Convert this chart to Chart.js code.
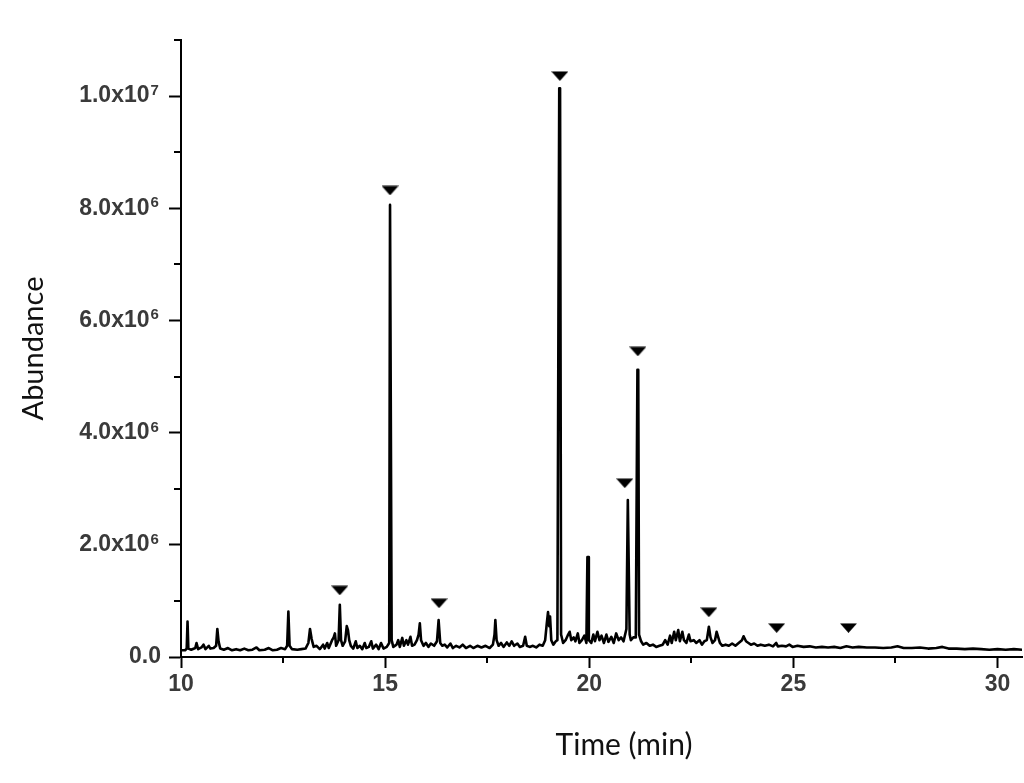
<!DOCTYPE html>
<html>
<head>
<meta charset="utf-8">
<script src="https://cdn.jsdelivr.net/npm/chart.js@4.4.1/dist/chart.umd.min.js"></script>
<style>
html,body{margin:0;padding:0;background:#fff;}
canvas{display:block;}
</style>
</head>
<body>
<canvas id="c" width="1024" height="783"></canvas>
<script>
// Retention time (min)
const times = [
10.00,10.10,10.14,10.16,10.18,10.25,10.35,10.38,10.42,10.50,10.55,10.60,10.68,10.72,10.80,10.86,10.89,10.92,10.96,
11.05,11.15,11.25,11.35,11.45,11.55,11.65,11.75,11.85,11.92,12.05,12.15,12.25,12.35,12.45,12.55,12.60,12.63,12.66,12.72,
12.85,12.95,13.05,13.12,13.16,13.20,13.25,13.32,13.40,13.48,13.52,13.58,13.62,13.70,13.74,13.77,13.80,13.86,13.89,13.92,
13.96,14.02,14.06,14.09,14.12,14.16,14.22,14.28,14.32,14.38,14.44,14.50,14.54,14.60,14.66,14.70,14.78,14.84,14.90,14.96,
15.04,15.10,15.12,15.14,15.16,15.20,15.28,15.32,15.36,15.42,15.46,15.52,15.56,15.62,15.66,15.72,15.78,15.82,15.85,15.88,15.94,
16.00,16.06,16.12,16.20,16.27,16.31,16.35,16.40,16.46,16.52,16.60,16.66,16.74,16.82,16.90,16.98,17.08,17.16,17.26,17.36,
17.46,17.56,17.64,17.68,17.70,17.73,17.78,17.84,17.90,17.98,18.04,18.10,18.16,18.24,18.30,18.38,18.43,18.47,18.54,18.62,
18.70,18.78,18.86,18.92,18.96,18.99,19.02,19.04,19.07,19.12,19.18,19.22,19.245,19.265,19.285,19.31,19.36,19.42,19.47,19.52,19.56,
19.62,19.66,19.72,19.76,19.82,19.88,19.93,19.955,19.97,19.99,20.05,20.10,20.14,20.20,20.25,20.30,20.36,20.42,20.47,20.54,20.60,
20.66,20.72,20.78,20.84,20.91,20.945,20.96,20.99,21.02,21.08,21.14,21.18,21.20,21.22,21.27,21.32,21.40,21.48,21.56,21.64,21.72,21.80,
21.86,21.92,21.98,22.02,22.08,22.12,22.18,22.22,22.28,22.32,22.38,22.44,22.48,22.56,22.62,22.70,22.76,22.82,22.88,22.93,
22.97,23.02,23.08,23.12,23.16,23.20,23.26,23.34,23.42,23.50,23.58,23.66,23.74,23.78,23.84,23.90,23.96,24.04,24.12,24.20,
24.30,24.40,24.50,24.58,24.62,24.72,24.82,24.90,24.98,25.10,25.25,25.40,25.55,25.70,25.85,26.00,26.15,26.30,26.45,26.60,
26.80,27.00,27.20,27.40,27.55,27.70,27.90,28.10,28.30,28.50,28.65,28.80,29.00,29.20,29.40,29.60,29.80,30.00,30.20,30.40,30.60
];
// Abundance (x10^6)
const abundance = [
0.12,0.12,0.15,0.63,0.15,0.13,0.16,0.25,0.14,0.17,0.22,0.14,0.20,0.15,0.16,0.20,0.50,0.28,0.15,
0.13,0.16,0.12,0.14,0.12,0.15,0.12,0.13,0.17,0.12,0.13,0.16,0.12,0.13,0.16,0.14,0.20,0.81,0.20,0.14,
0.13,0.14,0.15,0.25,0.50,0.32,0.18,0.20,0.14,0.22,0.15,0.25,0.16,0.30,0.35,0.42,0.20,0.30,0.93,0.30,
0.20,0.28,0.55,0.48,0.30,0.20,0.15,0.28,0.16,0.20,0.14,0.25,0.16,0.18,0.28,0.15,0.22,0.14,0.25,0.15,
0.18,0.25,8.06,8.06,0.30,0.18,0.22,0.30,0.18,0.34,0.20,0.30,0.22,0.36,0.20,0.22,0.30,0.40,0.60,0.30,0.20,
0.25,0.18,0.24,0.20,0.28,0.66,0.25,0.20,0.22,0.17,0.24,0.16,0.20,0.17,0.22,0.16,0.20,0.16,0.20,0.17,
0.20,0.16,0.22,0.40,0.66,0.30,0.20,0.25,0.18,0.26,0.20,0.28,0.20,0.24,0.18,0.20,0.36,0.20,0.18,0.20,
0.17,0.22,0.20,0.30,0.60,0.80,0.55,0.72,0.30,0.22,0.28,0.30,6.00,10.14,10.14,0.40,0.25,0.30,0.38,0.45,0.30,
0.35,0.28,0.42,0.25,0.30,0.38,0.25,1.78,1.78,0.30,0.25,0.40,0.28,0.45,0.30,0.38,0.25,0.40,0.27,0.36,0.25,
0.42,0.30,0.35,0.28,0.50,2.80,2.00,0.40,0.30,0.35,0.35,5.12,5.12,0.40,0.28,0.22,0.25,0.20,0.22,0.18,0.20,0.22,
0.30,0.22,0.38,0.25,0.45,0.30,0.48,0.28,0.45,0.30,0.25,0.40,0.28,0.30,0.25,0.30,0.22,0.28,0.30,0.54,
0.35,0.25,0.30,0.45,0.35,0.25,0.20,0.22,0.20,0.24,0.20,0.25,0.30,0.37,0.28,0.25,0.22,0.24,0.20,0.22,
0.20,0.22,0.19,0.25,0.19,0.20,0.19,0.22,0.18,0.20,0.18,0.19,0.17,0.18,0.17,0.18,0.16,0.19,0.17,0.18,
0.17,0.17,0.16,0.17,0.19,0.16,0.16,0.17,0.15,0.16,0.18,0.15,0.15,0.14,0.15,0.14,0.13,0.14,0.13,0.14,0.13
];
// Marked compounds (triangles)
const markerTimes = [13.89, 15.12, 16.32, 19.28, 20.87, 21.19, 22.93, 24.59, 26.35];
const markerValues = [1.19, 8.32, 0.96, 10.36, 3.10, 5.45, 0.80, 0.52, 0.52];

// Axis ticks
const xTicks = [10, 12.5, 15, 17.5, 20, 22.5, 25, 27.5, 30];
const xTickLabels = ["10", "", "15", "", "20", "", "25", "", "30"];
const yTicks = [0, 1, 2, 3, 4, 5, 6, 7, 8, 9, 10, 11];
const yTickLabels = ["0.0", "", "2.0x10", "", "4.0x10", "", "6.0x10", "", "8.0x10", "", "1.0x10", ""];
const yTickExponents = ["", "", "6", "", "6", "", "6", "", "6", "", "7", ""];
const xTitle = "Time (min)";
const yTitle = "Abundance";

const tracePoints = times.map((t, i) => ({x: t, y: abundance[i]}));
const markerPoints = markerTimes.map((t, i) => ({x: t, y: markerValues[i]}));

const tickFont = {family: "'Liberation Sans', Arial, sans-serif", size: 23, weight: 'bold'};
const tickColor = '#3a3a3a';
const titleFontFamily = "Lato, 'Open Sans', sans-serif";
const EXP_GAP = '\u2002';

// downward triangle marker image
const tri = document.createElement('canvas');
tri.width = 17; tri.height = 10;
const tctx = tri.getContext('2d');
tctx.fillStyle = '#000';
tctx.beginPath();
tctx.moveTo(0, 0.5); tctx.lineTo(17, 0.5); tctx.lineTo(8.5, 10); tctx.closePath();
tctx.fill();

const axisExtras = {
  id: 'axisExtras',
  afterDraw(chart) {
    const ctx = chart.ctx;
    const xs = chart.scales.x, ys = chart.scales.y;
    ctx.save();
    // minor ticks
    ctx.strokeStyle = '#000';
    ctx.lineWidth = 2;
    xs.ticks.forEach((tk, i) => {
      if (xTickLabels[i] === '') {
        const px = Math.round(xs.getPixelForValue(tk.value));
        ctx.beginPath(); ctx.moveTo(px, xs.top); ctx.lineTo(px, xs.top + 6); ctx.stroke();
      }
    });
    ys.ticks.forEach((tk, i) => {
      if (yTickLabels[i] === '') {
        const py = Math.round(ys.getPixelForValue(tk.value));
        ctx.beginPath(); ctx.moveTo(ys.right, py); ctx.lineTo(ys.right - 7, py); ctx.stroke();
      }
    });
    // exponents of y tick labels
    ctx.font = `${tickFont.weight} ${tickFont.size}px ${tickFont.family}`;
    const gapW = ctx.measureText(EXP_GAP).width;
    const labelRight = ys.right - 12 - 8;
    ctx.font = `${tickFont.weight} 15px ${tickFont.family}`;
    ctx.fillStyle = tickColor;
    ctx.textAlign = 'left';
    ctx.textBaseline = 'alphabetic';
    ys.ticks.forEach((tk, i) => {
      const e = yTickExponents[i];
      if (e) {
        const py = ys.getPixelForValue(tk.value);
        ctx.fillText(e, labelRight - gapW + 1, py - 1);
      }
    });
    // x axis title
    ctx.font = `normal 30px ${titleFontFamily}`;
    ctx.fillStyle = '#111';
    ctx.textAlign = 'center';
    ctx.textBaseline = 'middle';
    ctx.fillText(xTitle, 624, 745);
    ctx.restore();
  }
};

new Chart(document.getElementById('c'), {
  type: 'line',
  data: {
    datasets: [
      {
        data: tracePoints,
        borderColor: '#000',
        borderWidth: 2.6,
        borderJoinStyle: 'round',
        borderCapStyle: 'round',
        pointRadius: 0,
        tension: 0,
        fill: false,
        order: 2
      },
      {
        type: 'scatter',
        data: markerPoints,
        pointStyle: tri,
        pointRadius: 8,
        showLine: false,
        order: 1
      }
    ]
  },
  options: {
    responsive: false,
    animation: false,
    parsing: false,
    events: [],
    layout: {autoPadding: false, padding: {top: 40, right: 2, left: 0, bottom: 0}},
    plugins: {legend: {display: false}, tooltip: {enabled: false}},
    scales: {
      x: {
        type: 'linear',
        min: 10, max: 30.6,
        afterBuildTicks: s => { s.ticks = xTicks.map(v => ({value: v})); },
        afterFit: s => { s.height = 126; s.paddingLeft = 0; s.paddingRight = 0; },
        border: {display: true, color: '#000', width: 2},
        grid: {
          drawOnChartArea: false, drawTicks: true, tickLength: 11, tickWidth: 2,
          tickColor: c => xTickLabels[c.index] === '' ? 'rgba(0,0,0,0)' : '#000'
        },
        ticks: {
          autoSkip: false, maxRotation: 0, padding: 3,
          color: tickColor,
          font: tickFont,
          callback: (v, i) => xTickLabels[i]
        },
        title: {display: false, text: xTitle}
      },
      y: {
        type: 'linear',
        min: 0, max: 11,
        afterBuildTicks: s => { s.ticks = yTicks.map(v => ({value: v})); },
        afterFit: s => { s.width = 181; s.paddingTop = 0; s.paddingBottom = 0; },
        border: {display: true, color: '#000', width: 2},
        grid: {
          drawOnChartArea: false, drawTicks: true, tickLength: 12, tickWidth: 2,
          tickColor: c => yTickLabels[c.index] === '' ? 'rgba(0,0,0,0)' : '#000'
        },
        ticks: {
          autoSkip: false, padding: 8,
          color: tickColor,
          font: tickFont,
          callback: (v, i) => yTickExponents[i] ? yTickLabels[i] + EXP_GAP : yTickLabels[i]
        },
        title: {
          display: true, text: yTitle, color: '#111',
          font: {family: titleFontFamily, size: 29, weight: 'normal'},
          padding: {top: 16, bottom: 0}
        }
      }
    }
  },
  plugins: [axisExtras]
});
</script>
</body>
</html>
